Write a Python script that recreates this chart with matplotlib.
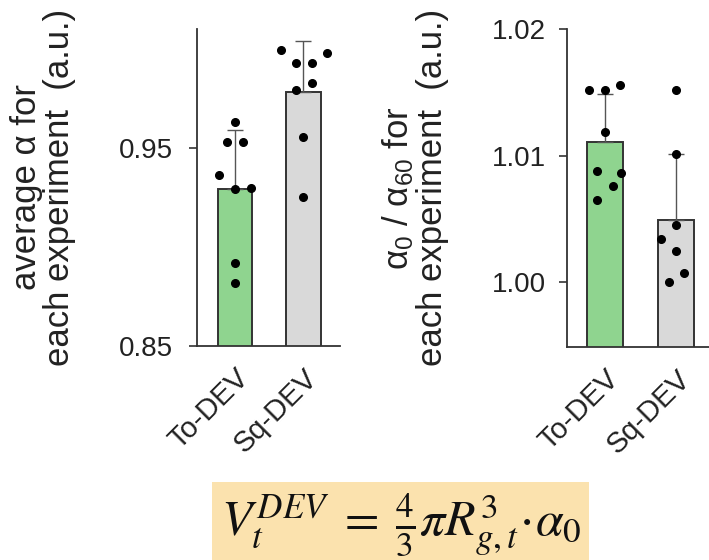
import matplotlib
matplotlib.use("Agg")
import matplotlib.pyplot as plt
from matplotlib.patches import Rectangle

plt.rcParams['font.family'] = ['Liberation Sans', 'DejaVu Sans']
plt.rcParams['mathtext.fontset'] = 'custom'
plt.rcParams['mathtext.rm'] = 'Liberation Sans'
plt.rcParams['mathtext.it'] = 'Liberation Sans:italic'

# groupes
groupes = ["To-DEV", "Sq-DEV"]
couleurs = ["#8fd48f", "#d9d9d9"]

# panneau gauche : alpha moyen
moy_alpha = [0.929, 0.978]
sd_alpha = [0.030, 0.0255]
pts_alpha_to = [0.9631, 0.9530, 0.9530, 0.9362, 0.9291, 0.9295, 0.8919, 0.8820]
dx_alpha_to = [0, -0.115, 0.115, -0.23, 0, 0.23, 0, 0]
pts_alpha_sq = [0.9990, 0.9929, 0.9929, 0.9976, 0.9791, 0.9825, 0.9552, 0.9249]
dx_alpha_sq = [-0.33, -0.11, 0.12, 0.34, -0.11, 0.12, 0, 0]

# panneau droit : alpha0 / alpha60
moy_ratio = [1.0111, 1.0049]
sd_ratio = [0.0038, 0.0052]
pts_ratio_to = [1.0152, 1.0152, 1.0156, 1.0119, 1.0088, 1.0086, 1.0076, 1.0065]
dx_ratio_to = [-0.22, 0, 0.21, 0, -0.11, 0.225, 0.11, -0.11]
pts_ratio_sq = [1.0152, 1.0101, 1.0045, 1.0034, 1.0025, 1.0007, 1.0000]
dx_ratio_sq = [0, 0, 0, -0.21, 0, 0.11, -0.10]

fig = plt.figure(figsize=(7.09, 5.6), dpi=100)
texte = "#222222"


def panneau(ax, moy, sd, pts, dxs, ylim, yticks, ylabel, pad_y):
    x = list(range(len(groupes)))
    ax.bar(x, moy, width=0.5, color=couleurs, edgecolor="#333333",
           linewidth=1.4, zorder=1)
    ax.errorbar(x, moy, yerr=[[0] * len(sd), sd], fmt="none",
                ecolor="#555555", elinewidth=1, capsize=5.5, capthick=1,
                zorder=2)
    for i in x:
        ax.plot([i + d for d in dxs[i]], pts[i], "o", color="black",
                markersize=5.5, zorder=3, clip_on=False)
    ax.set_ylim(*ylim)
    ax.set_yticks(yticks)
    ax.set_xticks(x)
    ax.set_xticklabels(groupes, rotation=45, ha="right", va="top",
                       rotation_mode="anchor", fontsize=21, color=texte)
    ax.tick_params(axis="x", length=0, pad=13)
    ax.tick_params(axis="y", length=6, width=1.2, labelsize=20,
                   labelcolor=texte, color="#333333", pad=pad_y)
    for s in ["top", "right"]:
        ax.spines[s].set_visible(False)
    for s in ["left", "bottom"]:
        ax.spines[s].set_linewidth(1.3)
        ax.spines[s].set_color("#333333")
    ax.set_ylabel(ylabel, fontsize=25, color=texte, labelpad=31,
                  linespacing=1.0)


ax1 = fig.add_axes([197 / 709, 1 - 346 / 560, 143 / 709, 317 / 560])
ax1.set_xlim(-0.555, 1.533)
panneau(ax1, moy_alpha, sd_alpha, [pts_alpha_to, pts_alpha_sq],
        [dx_alpha_to, dx_alpha_sq], (0.85, 1.0098), [0.85, 0.95],
        "average α for\neach experiment  (a.u.)", 11)
ax1.set_yticklabels(["0.85", "0.95"])

ax2 = fig.add_axes([567 / 709, 1 - 346.7 / 560, 152 / 709, 317.7 / 560])
ax2.set_xlim(-0.535, 1.6)
panneau(ax2, moy_ratio, sd_ratio, [pts_ratio_to, pts_ratio_sq],
        [dx_ratio_to, dx_ratio_sq], (0.99492, 1.02), [1.00, 1.01, 1.02],
        "α$_0$ / α$_{60}$ for\neach experiment  (a.u.)", 9)
ax2.set_yticklabels(["1.00", "1.01", "1.02"])

# formule dans l'encadré
fig.patches.append(Rectangle((212 / 709, 1 - 560 / 560), 377 / 709, 78 / 560,
                             transform=fig.transFigure, facecolor="#fbe2ae",
                             edgecolor="none", zorder=0))
fig.text(401 / 709, 1 - 525 / 560,
         r"$V_t^{DEV}\;=\;\frac{4}{3}\pi R_{g,t}^{3}\!\cdot\!\alpha_0$",
         fontsize=36, ha="center", va="center", color="#111111",
         math_fontfamily="stix")

fig.savefig("out.png", dpi=100)
